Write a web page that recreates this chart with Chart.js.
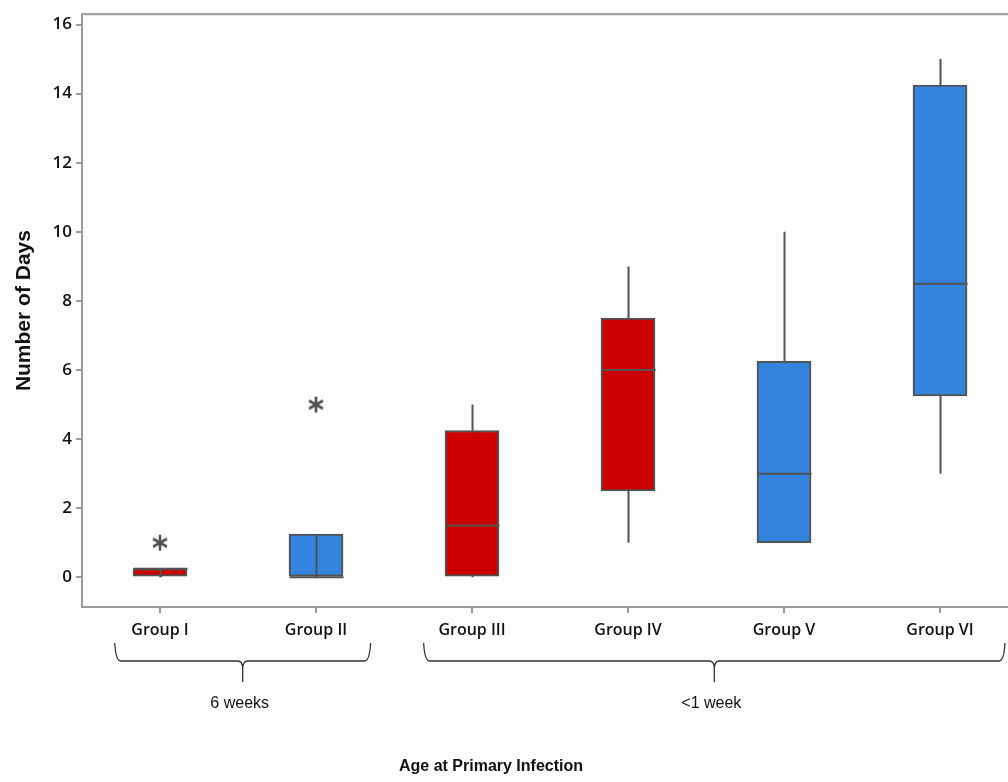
<!DOCTYPE html>
<html>
<head>
<meta charset="utf-8">
<script src="https://cdn.jsdelivr.net/npm/chart.js@4/dist/chart.umd.min.js"></script>
<style>
  html, body { margin: 0; padding: 0; background: #fdfdfd; overflow: hidden; }
  #wrap { width: 1028px; height: 782px; }
</style>
</head>
<body>
<div id="wrap"><canvas id="boxChart"></canvas></div>
<script>
// Box plot values (days)
const groups = ['Group I', 'Group II', 'Group III', 'Group IV', 'Group V', 'Group VI'];
const whiskerLow = [0, 0, 0, 1, 1, 3];
const q1 = [0, 0, 0, 2.5, 1, 5.25];
const median = [0.25, 0, 1.5, 6, 3, 8.5];
const q3 = [0.25, 1.25, 4.25, 7.5, 6.25, 14.25];
const whiskerHigh = [0.25, 1.25, 5, 9, 10, 15];
const outliers = [1, 5, null, null, null, null];
const boxColors = ['#cc0000', '#3584e0', '#cc0000', '#cc0000', '#3584e0', '#3584e0'];
// groups whose whisker line shows through the (flat) box
const innerLine = [true, true, false, false, false, false];

const ageGroups = [
    { label: '6 weeks', from: 0, to: 1, left: 0.29, right: 0.35 },
    { label: '<1 week', from: 2, to: 5, left: 0.31, right: 0.42 }
];
const yTicks = [0, 2, 4, 6, 8, 10, 12, 14, 16];

const lineColor = '#525252';
const frameColor = '#9a9a9a';

/**
 * Make a 6-armed asterisk used for the outlier markers
 */
function makeAsterisk(size) {
    const c = document.createElement('canvas');
    c.width = size;
    c.height = size;
    const g = c.getContext('2d');
    g.strokeStyle = lineColor;
    g.lineWidth = 2.6;
    g.lineCap = 'butt';
    const r = size / 2 - 1;
    for (let i = 0; i < 3; i++) {
        const a = Math.PI / 2 + i * Math.PI / 3;
        g.beginPath();
        g.moveTo(size / 2 + r * Math.cos(a), size / 2 + r * Math.sin(a));
        g.lineTo(size / 2 - r * Math.cos(a), size / 2 - r * Math.sin(a));
        g.stroke();
    }
    return c;
}

// whiskers, medians, frame, brackets under the axis
const boxExtras = {
    id: 'boxExtras',
    beforeDatasetsDraw(chart) {
        const { ctx, scales: { x, y } } = chart;
        ctx.save();
        ctx.strokeStyle = lineColor;
        ctx.lineWidth = 2;
        groups.forEach((g, i) => {
            const cx = Math.round(x.getPixelForValue(i)) + 0.5;
            ctx.beginPath();
            ctx.moveTo(cx, y.getPixelForValue(whiskerLow[i]));
            ctx.lineTo(cx, y.getPixelForValue(whiskerHigh[i]));
            ctx.stroke();
        });
        ctx.restore();
    },
    afterDatasetsDraw(chart) {
        const { ctx, chartArea, scales: { x, y } } = chart;
        const half = 27;
        ctx.save();
        ctx.strokeStyle = lineColor;
        ctx.lineWidth = 2;
        groups.forEach((g, i) => {
            const cx = Math.round(x.getPixelForValue(i)) + 0.5;
            const my = y.getPixelForValue(median[i]);
            ctx.beginPath();
            ctx.moveTo(cx - half, my);
            ctx.lineTo(cx + half, my);
            ctx.stroke();
            if (innerLine[i]) {
                ctx.beginPath();
                ctx.moveTo(cx, y.getPixelForValue(q1[i]));
                ctx.lineTo(cx, y.getPixelForValue(q3[i]));
                ctx.stroke();
            }
        });

        // plot frame
        ctx.strokeStyle = frameColor;
        ctx.lineWidth = 2;
        ctx.strokeRect(chartArea.left, chartArea.top, chartArea.right - chartArea.left, chartArea.bottom - chartArea.top);

        // curly brackets grouping the categories
        const step = x.getPixelForValue(1) - x.getPixelForValue(0);
        const top = chartArea.bottom + 36;
        const mid = top + 18;
        const tip = mid + 21;
        ctx.strokeStyle = '#333';
        ctx.lineWidth = 1.3;
        ctx.fillStyle = '#111';
        ctx.font = '16px "Liberation Sans", Arial, sans-serif';
        ctx.textAlign = 'center';
        ctx.textBaseline = 'middle';
        ageGroups.forEach(ag => {
            const l = x.getPixelForValue(ag.from) - step * ag.left;
            const r = Math.min(x.getPixelForValue(ag.to) + step * ag.right, 1005);
            const c = (l + r) / 2;
            ctx.beginPath();
            ctx.moveTo(l, top);
            ctx.quadraticCurveTo(l + 1, mid, l + 6, mid);
            ctx.lineTo(c - 5, mid);
            ctx.quadraticCurveTo(c, mid, c, mid + 8);
            ctx.lineTo(c, tip);
            ctx.moveTo(c, mid + 8);
            ctx.quadraticCurveTo(c, mid, c + 5, mid);
            ctx.lineTo(r - 6, mid);
            ctx.quadraticCurveTo(r - 1, mid, r, top);
            ctx.stroke();
            ctx.fillText(ag.label, c - 3, tip + 22);
        });

        // x axis title
        ctx.font = 'bold 16px "Liberation Sans", Arial, sans-serif';
        ctx.fillText('Age at Primary Infection', 491, 767);
        ctx.restore();
    }
};

const ctx = document.getElementById('boxChart').getContext('2d');
new Chart(ctx, {
    data: {
        labels: groups,
        datasets: [
            {
                type: 'bar',
                data: groups.map((g, i) => [q1[i], q3[i]]),
                backgroundColor: boxColors,
                borderColor: lineColor,
                borderWidth: 2,
                borderSkipped: false,
                barThickness: 54,
                order: 2
            },
            {
                type: 'line',
                data: outliers,
                showLine: false,
                pointStyle: makeAsterisk(18),
                pointRadius: 9,
                order: 1
            }
        ]
    },
    options: {
        responsive: true,
        maintainAspectRatio: false,
        animation: false,
        layout: { padding: { top: 10, right: 1, left: 0, bottom: 0 } },
        plugins: {
            legend: { display: false },
            tooltip: { enabled: false }
        },
        scales: {
            x: {
                type: 'category',
                offset: true,
                grid: {
                    offset: false,
                    drawOnChartArea: false,
                    color: frameColor,
                    tickLength: 6,
                    lineWidth: 2
                },
                border: { display: false },
                ticks: {
                    color: '#111',
                    padding: 8,
                    font: { family: '"Open Sans", sans-serif', size: 16, weight: '600' }
                },
                afterFit(scale) { scale.height = 175; }
            },
            y: {
                min: -0.86,
                max: 16.3,
                afterBuildTicks(scale) {
                    scale.ticks = yTicks.map(v => ({ value: v }));
                },
                grid: {
                    drawOnChartArea: false,
                    color: frameColor,
                    tickLength: 6,
                    lineWidth: 2
                },
                border: { display: false },
                ticks: {
                    color: '#111',
                    padding: 4,
                    font: { family: '"Open Sans", sans-serif', size: 17, weight: '600' }
                },
                title: {
                    display: true,
                    text: 'Number of Days',
                    color: '#111',
                    padding: { top: 12, bottom: 0 },
                    font: { family: '"Liberation Sans", Arial, sans-serif', size: 21, weight: 'bold' }
                },
                afterFit(scale) { scale.width = 82; }
            }
        }
    },
    plugins: [boxExtras]
});
</script>
</body>
</html>
